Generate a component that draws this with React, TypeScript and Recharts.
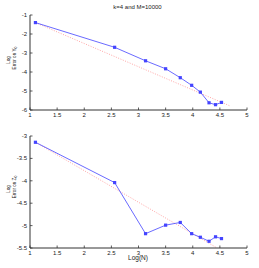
import React from 'react';
import { LineChart, Line, XAxis, YAxis } from 'recharts';

const logN = [1.1, 2.56, 3.13, 3.5, 3.77, 3.98, 4.14, 4.3, 4.42, 4.53];
const errY0 = [-1.4, -2.7, -3.41, -3.83, -4.3, -4.7, -5.06, -5.62, -5.72, -5.6];
const errZ0 = [-3.14, -4.04, -5.18, -4.99, -4.93, -5.18, -5.26, -5.35, -5.25, -5.29];
const refXTop = [1.1, 4.69];
const refYTop = [-1.4, -5.79];
const refXBot = [1.1, 4.45];
const refYBot = [-3.14, -5.5];
const xTicks = [1, 1.5, 2, 2.5, 3, 3.5, 4, 4.5, 5];
const yTicksTop = [-6, -5, -4, -3, -2, -1];
const yTicksBot = [-5.5, -5, -4.5, -4, -3.5, -3];
const title = 'k=4 and M=10000';
const xLabel = 'Log(N)';

const topData = logN.map((x, i) => ({ x, y: errY0[i] }));
const botData = logN.map((x, i) => ({ x, y: errZ0[i] }));
const topRef = refXTop.map((x, i) => ({ x, r: refYTop[i] }));
const botRef = refXBot.map((x, i) => ({ x, r: refYBot[i] }));

const FONT = 'Liberation Sans, Arial, sans-serif';
const AXIS = '#333';
const BLUE = '#4444ff';
const RED = '#ff8f8f';

const BottomTick = (props: any) => {
  const { x, y, payload } = props;
  return (
    <g>
      <line x1={x} y1={y} x2={x} y2={y - 2.5} stroke={AXIS} strokeWidth={0.8} />
      <text x={x} y={y + 6.5} textAnchor="middle" fontSize={6} fill="#222" fontFamily={FONT}>
        {payload.value}
      </text>
    </g>
  );
};
const TopTick = (props: any) => {
  const { x, y } = props;
  return <line x1={x} y1={y} x2={x} y2={y + 2.5} stroke={AXIS} strokeWidth={0.8} />;
};
const LeftTick = (props: any) => {
  const { x, y, payload } = props;
  return (
    <g>
      <line x1={x} y1={y} x2={x + 2.5} y2={y} stroke={AXIS} strokeWidth={0.8} />
      <text x={x - 3} y={y + 2} textAnchor="end" fontSize={6} fill="#222" fontFamily={FONT}>
        {payload.value}
      </text>
    </g>
  );
};
const RightTick = (props: any) => {
  const { x, y } = props;
  return <line x1={x} y1={y} x2={x - 2.5} y2={y} stroke={AXIS} strokeWidth={0.8} />;
};

const Dot = (props: any) => {
  const { cx, cy, index } = props;
  return <rect key={index} x={cx - 1.6} y={cy - 1.6} width={3.2} height={3.2} fill={BLUE} />;
};

const YLabel = ({ sub, cy }: { sub: string; cy: number }) => (
  <g fontFamily={FONT} fill="#222">
    <text transform={`translate(9.5, ${cy + 2}) rotate(-90)`} textAnchor="middle" fontSize={4.8}>Log</text>
    <text transform={`translate(16, ${cy}) rotate(-90)`} textAnchor="middle" fontSize={4.6}>
      Error on {sub}
      <tspan fontSize={3.4} dy={1.4}>0</tspan>
    </text>
  </g>
);

export default function App() {
  return (
    <div style={{ position: 'absolute', left: 0, top: 0, width: 259, height: 268, background: '#fff' }}>
      <LineChart width={259} height={130} margin={{ top: 15, right: 12, bottom: 0, left: 0 }}>
        <XAxis dataKey="x" type="number" domain={[1, 5]} ticks={xTicks} interval={0} height={20}
          tickSize={0} tickMargin={0} tick={<BottomTick />} axisLine={{ stroke: AXIS }} allowDataOverflow />
        <XAxis xAxisId="top" orientation="top" dataKey="x" type="number" domain={[1, 5]} ticks={xTicks} interval={0}
          height={0} tickSize={0} tickMargin={0} tick={<TopTick />} axisLine={{ stroke: '#666' }} />
        <YAxis type="number" domain={[-6, -1]} ticks={yTicksTop} interval={0} width={30}
          tickSize={0} tickMargin={0} tick={<LeftTick />} axisLine={{ stroke: AXIS }} allowDataOverflow />
        <YAxis yAxisId="right" orientation="right" type="number" domain={[-6, -1]} ticks={yTicksTop} interval={0} width={0}
          tickSize={0} tickMargin={0} tick={<RightTick />} axisLine={{ stroke: '#666' }} />
        <Line data={topRef} dataKey="r" stroke={RED} strokeWidth={0.8} strokeDasharray="1 1.5" dot={false} isAnimationActive={false} />
        <Line data={topData} dataKey="y" stroke={BLUE} strokeWidth={0.8} dot={<Dot />} isAnimationActive={false} />
      </LineChart>
      <LineChart width={259} height={138} margin={{ top: 6, right: 12, bottom: 0, left: 0 }}>
        <XAxis dataKey="x" type="number" domain={[1, 5]} ticks={xTicks} interval={0} height={20}
          tickSize={0} tickMargin={0} tick={<BottomTick />} axisLine={{ stroke: AXIS }} allowDataOverflow />
        <XAxis xAxisId="top" orientation="top" dataKey="x" type="number" domain={[1, 5]} ticks={xTicks} interval={0}
          height={0} tickSize={0} tickMargin={0} tick={<TopTick />} axisLine={{ stroke: '#666' }} />
        <YAxis type="number" domain={[-5.5, -3]} ticks={yTicksBot} interval={0} width={30}
          tickSize={0} tickMargin={0} tick={<LeftTick />} axisLine={{ stroke: AXIS }} allowDataOverflow />
        <YAxis yAxisId="right" orientation="right" type="number" domain={[-5.5, -3]} ticks={yTicksBot} interval={0} width={0}
          tickSize={0} tickMargin={0} tick={<RightTick />} axisLine={{ stroke: '#666' }} />
        <Line data={botRef} dataKey="r" stroke={RED} strokeWidth={0.8} strokeDasharray="1 1.5" dot={false} isAnimationActive={false} />
        <Line data={botData} dataKey="y" stroke={BLUE} strokeWidth={0.8} dot={<Dot />} isAnimationActive={false} />
      </LineChart>
      <svg width={259} height={268} style={{ position: 'absolute', left: 0, top: 0, pointerEvents: 'none' }}>
        <text x={137.5} y={9} textAnchor="middle" fontSize={6} fontFamily={FONT} fill="#222">{title}</text>
        <YLabel sub="Y" cy={58} />
        <YLabel sub="Z" cy={187} />
        <text x={138} y={260} textAnchor="middle" fontSize={6.5} fontFamily={FONT} fill="#222">{xLabel}</text>
      </svg>
    </div>
  );
}
